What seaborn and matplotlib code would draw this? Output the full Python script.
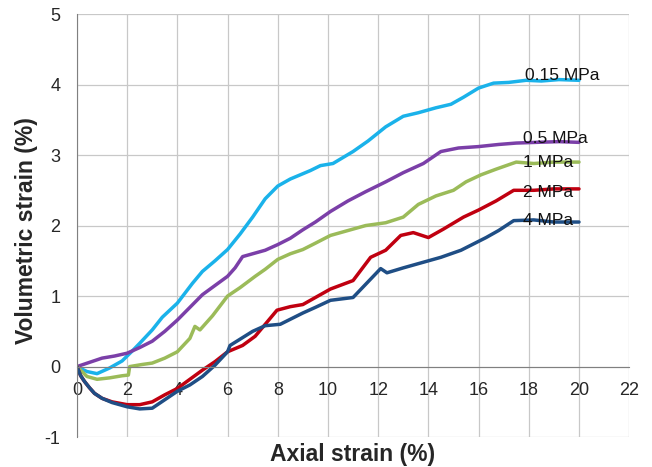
import matplotlib
matplotlib.use('Agg')
import matplotlib.pyplot as plt
import seaborn as sns
import numpy as np
import pandas as pd
from matplotlib.ticker import MultipleLocator

# Datos (deformacion axial vs volumetrica, %)
x_015 = [0, 0.4, 0.8, 1.3, 1.8, 2.2, 2.5, 3.0, 3.4, 4.0, 4.6, 5.0, 5.5, 6.0, 6.5, 7.0, 7.5, 8.0, 8.5, 8.9,
         9.3, 9.7, 10.2, 11.0, 11.6, 12.3, 13.0, 13.6, 14.3, 14.9, 15.4, 16.0, 16.6, 17.2, 17.9, 18.5, 19.2, 20.0]
y_015 = [0, -0.07, -0.1, -0.02, 0.08, 0.22, 0.33, 0.52, 0.7, 0.9, 1.18, 1.35, 1.5, 1.66, 1.88, 2.12, 2.38, 2.56, 2.66, 2.72,
         2.78, 2.85, 2.88, 3.05, 3.2, 3.4, 3.55, 3.6, 3.67, 3.72, 3.82, 3.95, 4.02, 4.03, 4.06, 4.05, 4.07, 4.06]

x_05 = [0, 0.5, 1.0, 1.5, 2.0, 2.5, 3.0, 3.5, 4.0, 4.5, 5.0, 5.5, 6.0, 6.3, 6.6, 7.0, 7.5, 8.0, 8.5, 9.0,
        9.5, 10.1, 10.8, 11.5, 12.3, 13.0, 13.8, 14.5, 15.2, 16.0, 16.8, 17.5, 18.3, 19.2, 20.0]
y_05 = [0, 0.06, 0.12, 0.15, 0.19, 0.27, 0.36, 0.5, 0.66, 0.84, 1.02, 1.15, 1.28, 1.4, 1.56, 1.6, 1.65, 1.73, 1.82, 1.94,
        2.05, 2.2, 2.35, 2.48, 2.62, 2.75, 2.88, 3.05, 3.1, 3.12, 3.15, 3.17, 3.18, 3.19, 3.18]

x_1 = [0, 0.4, 0.8, 1.3, 1.8, 2.05, 2.1, 2.6, 3.0, 3.5, 4.0, 4.5, 4.7, 4.9, 5.4, 6.0, 6.5, 7.1, 7.5, 8.0, 8.5,
       9.0, 9.5, 10.1, 10.8, 11.5, 12.3, 13.0, 13.6, 14.3, 15.0, 15.5, 16.1, 16.7, 17.5, 18.2, 19.0, 20.0]
y_1 = [0, -0.14, -0.18, -0.16, -0.13, -0.12, 0.0, 0.03, 0.05, 0.12, 0.21, 0.4, 0.57, 0.52, 0.72, 1.0, 1.12, 1.28, 1.38, 1.52, 1.6,
       1.66, 1.75, 1.86, 1.93, 2.0, 2.04, 2.12, 2.3, 2.42, 2.5, 2.62, 2.72, 2.8, 2.9, 2.88, 2.9, 2.9]

x_2 = [0, 0.15, 0.3, 0.5, 0.7, 1.0, 1.4, 2.0, 2.5, 3.0, 3.5, 4.0, 4.5, 5.0, 5.5, 6.0, 6.6, 7.1, 7.5, 7.97, 8.5, 9.0, 9.7,
       10.1, 11.0, 11.7, 12.3, 12.9, 13.4, 14.0, 14.6, 15.4, 16.0, 16.7, 17.4, 18.2, 19.0, 20.0]
y_2 = [0, -0.13, -0.21, -0.3, -0.38, -0.45, -0.5, -0.54, -0.54, -0.5, -0.4, -0.31, -0.18, -0.05, 0.07, 0.21, 0.3, 0.43, 0.6, 0.8, 0.85, 0.88, 1.02,
       1.1, 1.22, 1.55, 1.65, 1.86, 1.9, 1.83, 1.95, 2.12, 2.22, 2.35, 2.5, 2.5, 2.52, 2.52]

x_4 = [0, 0.15, 0.3, 0.5, 0.7, 1.0, 1.4, 2.0, 2.5, 3.0, 3.5, 4.0, 4.5, 5.0, 5.5, 6.0, 6.1, 7.0, 7.5, 8.1, 9.0,
       9.5, 10.1, 11.0, 12.1, 12.35, 13.0, 13.7, 14.5, 15.3, 15.8, 16.3, 16.8, 17.4, 18.2, 19.0, 20.0]
y_4 = [0, -0.13, -0.21, -0.3, -0.38, -0.45, -0.51, -0.57, -0.6, -0.59, -0.47, -0.35, -0.26, -0.14, 0.02, 0.21, 0.3, 0.5, 0.58, 0.6, 0.76,
       0.84, 0.94, 0.98, 1.39, 1.33, 1.4, 1.47, 1.55, 1.65, 1.74, 1.83, 1.93, 2.07, 2.08, 2.05, 2.05]

etiquetas = ['0.15 MPa', '0.5 MPa', '1 MPa', '2 MPa', '4 MPa']
cores = ['#1AB2EA', '#7B3FA8', '#9BBB59', '#C00010', '#1F4E85']
pos_texto = [(17.85, 4.13), (17.78, 3.23), (17.78, 2.89), (17.78, 2.47), (17.78, 2.07)]

series = [(x_015, y_015), (x_05, y_05), (x_1, y_1), (x_2, y_2), (x_4, y_4)]
frames = []
for nome, (xs, ys) in zip(etiquetas, series):
    frames.append(pd.DataFrame({'axial': xs, 'vol': ys, 'pressao': nome}))
df = pd.concat(frames, ignore_index=True)

sns.set_style('white')
plt.rcParams['font.family'] = ['Liberation Sans', 'DejaVu Sans']
plt.rcParams['axes.unicode_minus'] = False

fig = plt.figure(figsize=(6.52, 4.67), dpi=100)
ax = fig.add_axes([0.118, 0.064, 0.847, 0.906])

sns.lineplot(data=df, x='axial', y='vol', hue='pressao', palette=cores, sort=False,
             linewidth=2.5, legend=False, ax=ax, estimator=None)

for nome, (tx, ty) in zip(etiquetas, pos_texto):
    ax.text(tx, ty, nome, fontsize=12.5, va='center', ha='left', color='#111111')

ax.set_xlim(0, 22)
ax.set_ylim(-1, 5)
ax.xaxis.set_major_locator(MultipleLocator(2))
ax.xaxis.set_minor_locator(MultipleLocator(1))
ax.yaxis.set_major_locator(MultipleLocator(1))
ax.yaxis.set_minor_locator(MultipleLocator(0.5))
ax.grid(True, which='major', color='#c8c8c8', linewidth=0.9)
ax.set_axisbelow(True)

# eixo x cruzando em y=0, como no Excel
ax.spines['bottom'].set_position(('data', 0))
for s in ['top', 'right']:
    ax.spines[s].set_visible(False)
ax.spines['bottom'].set_color('#808080')
ax.spines['left'].set_color('#808080')
ax.tick_params(axis='x', which='major', direction='inout', length=8, color='#808080',
               labelsize=13, pad=7)
ax.tick_params(axis='x', which='minor', direction='inout', length=6, color='#808080')
ax.tick_params(axis='y', which='major', direction='out', length=7, color='#808080',
               labelsize=13, pad=5)
ax.tick_params(axis='y', which='minor', direction='out', length=7, color='#808080')

ax.set_xlabel('')
ax.set_ylabel('')
fig.text(0.54, 0.026, 'Axial strain (%)', ha='center', va='center', fontsize=16.5, fontweight='bold')
fig.text(0.04, 0.507, 'Volumetric strain (%)', ha='center', va='center', rotation=90,
         fontsize=16.5, fontweight='bold')

fig.savefig('out.png', dpi=100)
